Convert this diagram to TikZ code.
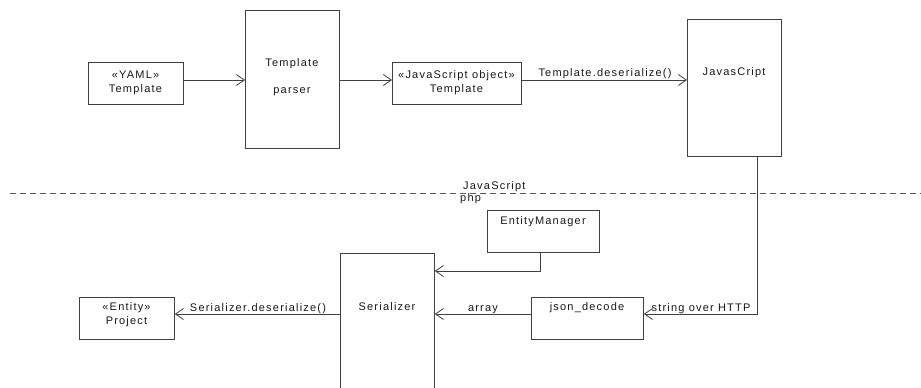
\documentclass[tikz,border=0pt]{standalone}
\usepackage{fontspec}
\setmainfont{Liberation Sans}[LetterSpace=11]
\usetikzlibrary{arrows.meta}
\begin{document}
\begin{tikzpicture}[x=1pt,y=-1pt,
  every node/.style={font=\fontsize{11}{14}\selectfont, text=black!90, inner sep=0pt},
  box/.style={draw=black!75, line width=0.8pt, rectangle, anchor=north west},
  txt/.style={align=center},
  flow/.style={draw=black!75, line width=0.8pt, -{Straight Barb[length=8pt,width=11pt,line width=0.8pt]}},
  wire/.style={draw=black!75, line width=0.8pt},
  lbl/.style={anchor=base}]
\useasboundingbox (0,0) rectangle (921,388);
\fill[white] (0,0) rectangle (921,388);

% ---- JavaScript side ----
\node[box, minimum width=95pt, minimum height=42pt] (yaml) at (88,62) {};
\node[txt] (yamlt) at (135.5,83) {«YAML»\\Template};

\node[box, minimum width=94pt, minimum height=138pt] (parser) at (245,10) {};
\node (parsert1) at (292,64) {Template};
\node (parsert2) at (292,92) {parser};

\node[box, minimum width=129pt, minimum height=42pt] (jsobj) at (392,62) {};
\node[txt] (jsobjt) at (456.5,83) {«JavaScript object»\\Template};

\node[box, minimum width=94pt, minimum height=137pt] (js) at (687,19) {};
\node (jst) at (734,73) {JavasCript};

\draw[flow] (yaml.east |- 0,80) -- (parser.west |- 0,80);
\draw[flow] (parser.east |- 0,80) -- (jsobj.west |- 0,80);
\draw[flow] (jsobj.east |- 0,80) -- (js.west |- 0,80);
\node[lbl] (deslbl) at (605,76) {Template.deserialize()};

% ---- boundary ----
\coordinate (sepL) at (10,193);
\coordinate (sepR) at (921,193);
\draw[draw=black!65, line width=0.8pt, dash pattern=on 6pt off 4pt] (sepL) -- (sepR);
\node[anchor=base west] (jslang) at (463,189) {JavaScript};
\node[anchor=base west] (phplang) at (460,201) {php};

% ---- php side ----
\node[box, minimum width=112pt, minimum height=42pt] (em) at (487,210) {};
\node (emt) at (543,222) {EntityManager};

\node[box, minimum width=94pt, minimum height=150pt] (ser) at (340,253) {};
\node (sert) at (387,307) {Serializer};

\node[box, minimum width=112pt, minimum height=42pt] (json) at (531,297) {};
\node (jsont) at (587,308) {json\_decode};

\node[box, minimum width=95pt, minimum height=42pt] (proj) at (79,297) {};
\node[txt] (projt) at (126.5,315) {«Entity»\\Project};

\draw[flow] (js.south -| 757,0) -- (757,314) -- (json.east |- 0,314);
\node[lbl] (httplbl) at (701,311) {string over HTTP};

\draw[flow] (em.south -| 540,0) -- (540,271) -- (ser.east |- 0,271);

\draw[flow] (json.west |- 0,314) -- (ser.east |- 0,314);
\node[lbl] (arrlbl) at (483,311) {array};

\draw[flow] (ser.west |- 0,314) -- (proj.east |- 0,314);
\node[lbl] (serlbl) at (258,311) {Serializer.deserialize()};
\end{tikzpicture}
\end{document}
